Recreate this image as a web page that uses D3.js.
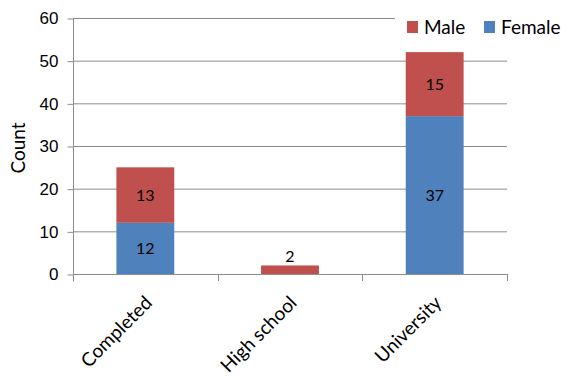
<!DOCTYPE html>
<html>
<head>
<meta charset="utf-8">
<script src="https://cdn.jsdelivr.net/npm/d3@7"></script>
<style>
  html, body { margin: 0; padding: 0; background: #fff; }
  svg { display: block; font-family: Lato, "Open Sans", "Liberation Sans", sans-serif; }
</style>
</head>
<body>
<svg id="chart" width="569" height="377"></svg>
<script>
const categories = ["Completed", "High school", "University"];
const female = [12, 0, 37];
const male = [13, 2, 15];
const yTicks = [0, 10, 20, 30, 40, 50, 60];
const seriesNames = ["Male", "Female"];
const seriesColors = ["#C0504D", "#4F81BD"];

const svg = d3.select("#chart");
const plot = { left: 73, right: 507, top: 18, bottom: 274 };

const x = d3.scaleBand().domain(categories).range([plot.left, plot.right]).paddingInner(0.6).paddingOuter(0.3);
const y = d3.scaleLinear().domain([0, 60]).range([plot.bottom, plot.top]);

// gridlines
svg.append("g").selectAll("line").data(yTicks.filter(d => d > 0)).join("line")
  .attr("x1", plot.left).attr("x2", plot.right)
  .attr("y1", d => y(d) + 0.5).attr("y2", d => y(d) + 0.5)
  .attr("stroke", "#8c8c8c").attr("stroke-width", 1);

// stacked bars
const rows = categories.map((c, i) => ({ cat: c, Female: female[i], Male: male[i] }));
const stack = d3.stack().keys(["Female", "Male"])(rows);
const color = { Female: "#4F81BD", Male: "#C0504D" };

stack.forEach(layer => {
  const g = svg.append("g");
  g.selectAll("rect").data(layer.filter(d => d[1] - d[0] > 0)).join("rect")
    .attr("x", d => x(d.data.cat))
    .attr("width", x.bandwidth())
    .attr("y", d => y(d[1]))
    .attr("height", d => y(d[0]) - y(d[1]))
    .attr("fill", color[layer.key]);
  g.selectAll("text").data(layer.filter(d => d[1] - d[0] > 0)).join("text")
    .attr("x", d => x(d.data.cat) + x.bandwidth() / 2)
    .attr("y", d => {
      const h = y(d[0]) - y(d[1]);
      return h < 18 ? y(d[1]) - 3 : (y(d[0]) + y(d[1])) / 2 + 6;
    })
    .attr("text-anchor", "middle")
    .attr("font-size", 16)
    .attr("fill", "#000")
    .text(d => d[1] - d[0]);
});

// y axis
const yAxis = d3.axisLeft(y).tickValues(yTicks).tickSize(6).tickPadding(9);
const gy = svg.append("g").attr("transform", `translate(${plot.left + 0.5},0.5)`).call(yAxis);
gy.select(".domain").attr("stroke", "#8c8c8c").attr("d", `M0,${plot.bottom + 7}V${plot.top}`);
gy.selectAll(".tick line").attr("stroke", "#8c8c8c");
gy.selectAll(".tick text").attr("font-size", 17).attr("fill", "#000").attr("font-family", null);

// x axis
const catEdges = categories.map((c, i) => plot.left + (plot.right - plot.left) * i / categories.length).concat([plot.right]);
const gx = svg.append("g");
gx.append("line").attr("x1", plot.left).attr("x2", plot.right)
  .attr("y1", plot.bottom + 0.5).attr("y2", plot.bottom + 0.5).attr("stroke", "#8c8c8c");
gx.selectAll("line.tk").data(catEdges).join("line").attr("class", "tk")
  .attr("x1", d => Math.round(d) + 0.5).attr("x2", d => Math.round(d) + 0.5)
  .attr("y1", plot.bottom).attr("y2", plot.bottom + 7).attr("stroke", "#8c8c8c");
gx.selectAll("text").data(categories).join("text")
  .attr("transform", d => `translate(${x(d) + x.bandwidth() / 2 + 8},${plot.bottom + 30}) rotate(-45)`)
  .attr("text-anchor", "end")
  .attr("font-size", 19)
  .attr("fill", "#000")
  .text(d => d);

// y axis title
svg.append("text")
  .attr("transform", `translate(25,${(plot.top + plot.bottom) / 2 + 2}) rotate(-90)`)
  .attr("text-anchor", "middle")
  .attr("font-size", 19)
  .attr("fill", "#000")
  .text("Count");

// legend
const legend = svg.append("g");
legend.append("rect").attr("x", 395).attr("y", 8).attr("width", 174).attr("height", 34).attr("fill", "#fff");
const legendX = [407, 484];
seriesNames.forEach((n, i) => {
  legend.append("rect").attr("x", legendX[i]).attr("y", 21).attr("width", 11).attr("height", 12).attr("fill", seriesColors[i]);
  legend.append("text").attr("x", legendX[i] + 17).attr("y", 34)
    .attr("font-size", 19).attr("fill", "#000").text(n);
});
</script>
</body>
</html>
